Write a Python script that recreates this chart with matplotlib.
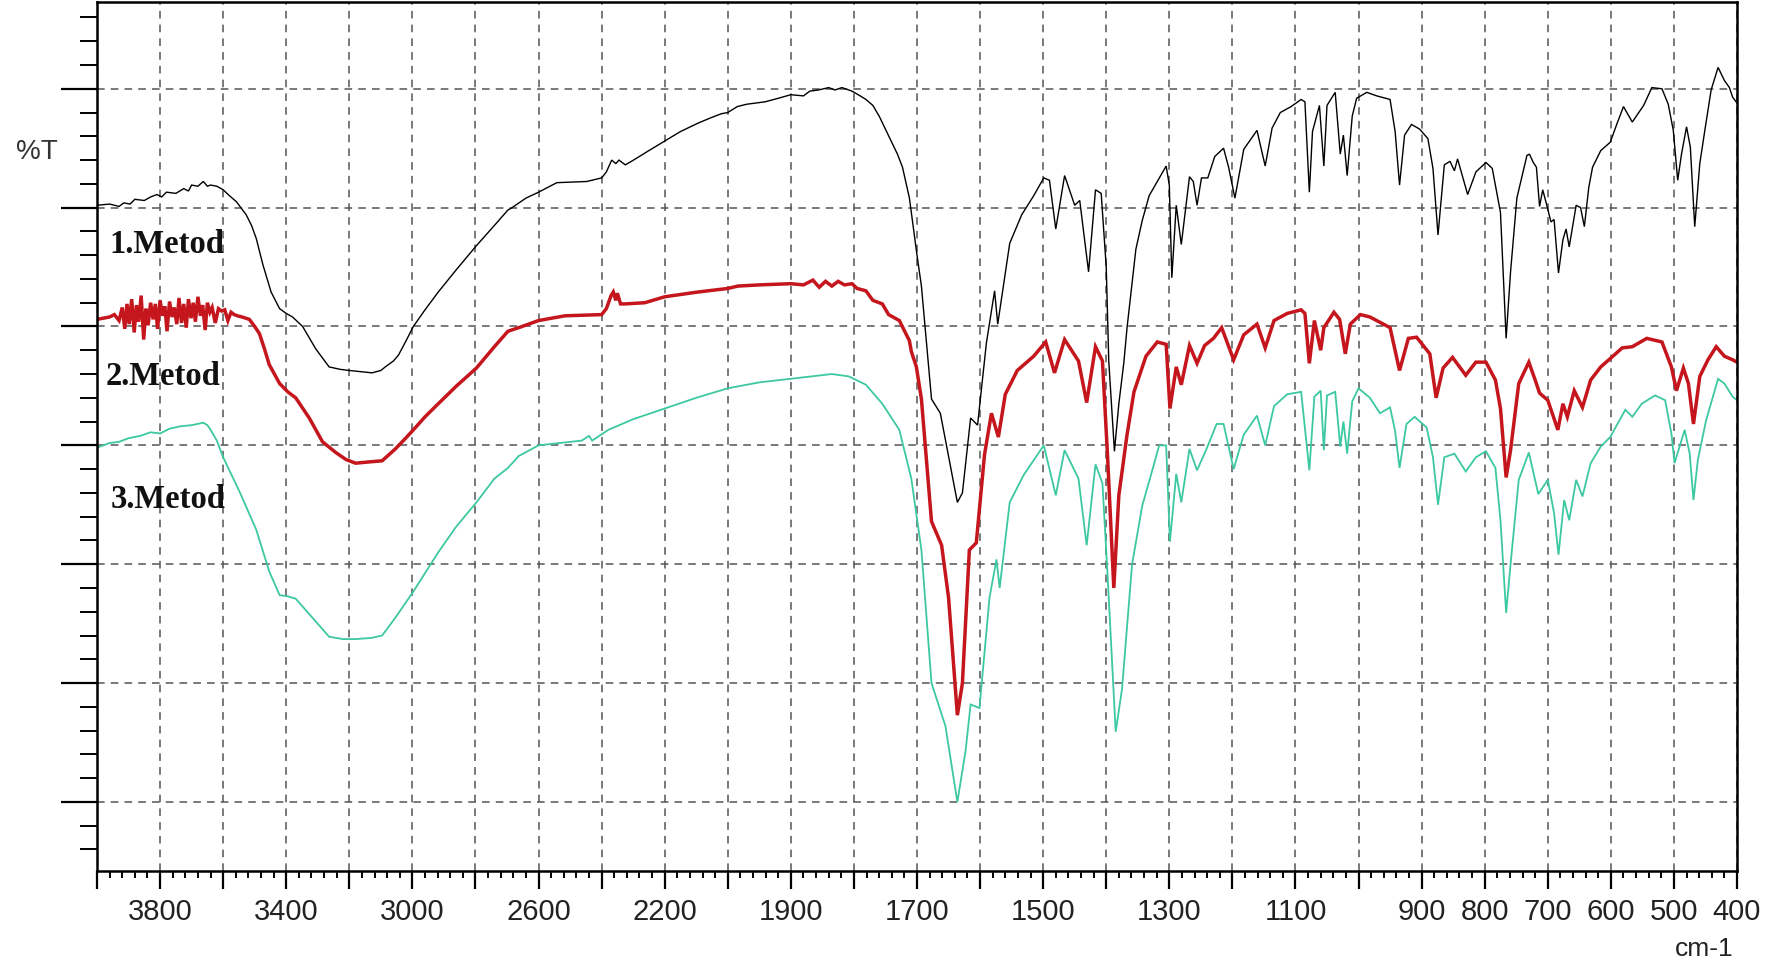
import numpy as np
import matplotlib
matplotlib.use("Agg")
import matplotlib.pyplot as plt
from matplotlib.ticker import FixedLocator, FixedFormatter

# ---------------- data (wavenumber cm-1, %T) ----------------
black = [(4000, 60.2), (3960, 60.3), (3930, 60.1), (3915, 60.4), (3895, 60.3), (3880, 60.7), (3850, 60.6),
         (3830, 60.9), (3810, 61.1), (3795, 60.9), (3780, 61.3), (3750, 61.2), (3725, 61.6), (3710, 61.4),
         (3700, 61.9), (3680, 61.8), (3663, 62.2), (3650, 61.8), (3640, 61.9), (3620, 61.8),
         (3600, 61.5), (3580, 61.0), (3558, 60.5), (3527, 59.4), (3510, 58.5), (3495, 57.4), (3474, 55.2),
         (3448, 52.9), (3421, 51.5), (3400, 51.1), (3380, 50.8), (3348, 50.0), (3306, 48.1), (3264, 46.6),
         (3230, 46.4), (3200, 46.3), (3128, 46.1), (3100, 46.3), (3086, 46.6), (3060, 47.1), (3044, 47.6),
         (3020, 48.8), (2997, 50.0), (2960, 51.4), (2918, 52.9), (2860, 54.8), (2797, 56.8), (2740, 58.5),
         (2697, 59.8), (2684, 60.0), (2640, 60.8), (2600, 61.3), (2542, 62.1), (2447, 62.2), (2400, 62.5),
         (2385, 63.0), (2368, 64.0), (2355, 63.7), (2345, 64.0), (2325, 63.6), (2305, 63.9), (2250, 64.8),
         (2200, 65.6), (2150, 66.4), (2095, 67.1), (2050, 67.6), (2020, 67.9), (2000, 68.0), (1985, 68.5),
         (1970, 68.7), (1941, 68.9), (1920, 69.2), (1900, 69.5), (1880, 69.4), (1870, 69.8), (1856, 69.9),
         (1840, 70.1), (1830, 69.9), (1819, 70.1), (1803, 69.8), (1790, 69.4), (1781, 69.1), (1770, 68.6),
         (1760, 67.7), (1741, 65.6), (1731, 64.5), (1723, 63.4), (1712, 60.8), (1700, 56.0), (1693, 53.4),
         (1677, 43.9), (1663, 42.7), (1650, 39.1), (1636, 35.2), (1628, 36.0), (1615, 42.3), (1604, 41.7),
         (1590, 48.6), (1577, 53.0), (1572, 50.2), (1553, 57.0), (1534, 59.4), (1515, 61.0), (1499, 62.5),
         (1490, 62.3), (1480, 58.2), (1466, 62.7), (1450, 60.2), (1442, 60.6), (1428, 54.6), (1417, 61.5),
         (1408, 61.2), (1400, 55.0), (1396, 47.1), (1387, 39.5), (1380, 43.5), (1372, 47.0), (1367, 49.9),
         (1353, 56.5), (1343, 58.9), (1332, 61.0), (1319, 62.2), (1305, 63.5), (1300, 61.9), (1296, 54.1),
         (1289, 60.2), (1281, 56.9), (1268, 62.6), (1262, 62.2), (1256, 60.2), (1249, 62.5), (1239, 62.5),
         (1228, 64.3), (1214, 65.0), (1206, 63.4), (1196, 60.8), (1182, 64.9), (1161, 66.5), (1148, 63.5),
         (1137, 66.7), (1124, 68.0), (1107, 68.5), (1091, 69.1), (1085, 68.9), (1078, 61.3), (1073, 66.4),
         (1062, 68.6), (1055, 63.5), (1050, 68.6), (1037, 69.7), (1029, 64.5), (1024, 66.1), (1018, 62.7),
         (1010, 67.7), (1003, 69.2), (987, 69.7), (971, 69.4), (950, 69.1), (942, 66.4), (935, 61.9),
         (927, 66.1), (916, 67.0), (903, 66.6), (890, 65.8), (882, 63.3), (874, 57.7), (864, 63.6),
         (855, 63.9), (848, 63.1), (843, 64.1), (827, 61.1), (814, 63.0), (798, 63.8), (788, 63.3),
         (775, 59.6), (766, 49.0), (759, 54.6), (749, 60.8), (733, 64.4), (729, 64.5), (723, 63.8),
         (718, 63.4), (713, 60.1), (708, 61.5), (703, 60.5), (695, 58.8), (690, 59.0), (683, 54.5),
         (676, 57.3), (671, 58.2), (666, 56.7), (655, 60.2), (648, 60.0), (642, 58.4), (635, 61.7),
         (629, 63.4), (616, 64.8), (601, 65.5), (590, 67.1), (580, 68.5), (566, 67.2), (548, 68.6),
         (535, 70.1), (519, 70.0), (509, 68.7), (501, 66.5), (494, 62.3), (488, 64.5), (480, 66.8),
         (474, 65.1), (467, 58.4), (459, 63.7), (451, 66.5), (441, 69.9), (430, 71.8), (420, 70.7),
         (412, 70.1), (407, 69.3), (400, 68.8)]

red = [(4000, 50.6), (3980, 50.7), (3960, 50.8), (3945, 51.0), (3930, 50.5), (3920, 51.6), (3912, 49.8),
       (3905, 51.9), (3898, 50.2), (3890, 52.3), (3882, 49.5), (3875, 51.8), (3868, 50.4), (3860, 52.6),
       (3852, 48.9), (3845, 51.5), (3838, 50.1), (3830, 52.0), (3822, 50.6), (3815, 51.9), (3808, 49.8),
       (3800, 52.2), (3792, 50.9), (3785, 51.7), (3778, 49.6), (3770, 52.1), (3762, 50.8), (3755, 51.6),
       (3747, 50.2), (3740, 52.4), (3732, 50.3), (3725, 51.9), (3717, 49.9), (3710, 52.3), (3702, 50.7),
       (3695, 52.0), (3688, 50.4), (3680, 52.5), (3672, 50.9), (3665, 51.8), (3657, 49.7), (3650, 52.0),
       (3642, 51.2), (3635, 51.6), (3625, 50.3), (3615, 51.5), (3605, 51.3), (3595, 51.4), (3585, 50.5),
       (3575, 51.2), (3565, 51.0), (3555, 50.9), (3540, 50.8), (3517, 50.6), (3500, 50.0), (3485, 49.4),
       (3470, 48.2), (3454, 46.8), (3421, 45.2), (3395, 44.5), (3370, 44.0), (3327, 42.3), (3285, 40.3),
       (3243, 39.4), (3210, 38.8), (3180, 38.5), (3140, 38.6), (3096, 38.7), (3075, 39.2), (3054, 39.7),
       (3025, 40.5), (2997, 41.3), (2960, 42.4), (2918, 43.5), (2860, 45.0), (2797, 46.5), (2740, 48.3),
       (2697, 49.6), (2663, 49.9), (2600, 50.5), (2516, 50.9), (2400, 51.0), (2385, 51.5), (2370, 52.6),
       (2363, 52.9), (2355, 52.2), (2350, 52.8), (2340, 51.9), (2326, 51.9), (2263, 52.0), (2200, 52.5),
       (2095, 52.9), (2000, 53.2), (1984, 53.4), (1950, 53.5), (1900, 53.6), (1880, 53.5), (1865, 53.9),
       (1855, 53.3), (1845, 53.8), (1835, 53.4), (1825, 53.8), (1815, 53.5), (1803, 53.6), (1795, 53.2),
       (1781, 53.0), (1770, 52.2), (1755, 51.9), (1745, 51.0), (1728, 50.5), (1712, 48.8), (1709, 47.9),
       (1701, 46.6), (1693, 43.9), (1677, 33.6), (1661, 31.6), (1650, 27.2), (1636, 17.3), (1628, 20.0),
       (1617, 31.2), (1606, 31.8), (1593, 39.2), (1582, 42.7), (1571, 40.7), (1560, 44.3), (1541, 46.3),
       (1515, 47.5), (1496, 48.7), (1482, 46.1), (1466, 48.9), (1444, 47.1), (1431, 43.6), (1417, 48.3),
       (1406, 47.1), (1398, 39.2), (1388, 28.0), (1380, 35.8), (1367, 40.9), (1356, 44.5), (1337, 47.5),
       (1319, 48.7), (1305, 48.5), (1299, 43.1), (1289, 46.6), (1281, 45.1), (1268, 48.4), (1256, 46.9),
       (1244, 48.4), (1230, 49.0), (1217, 49.9), (1198, 47.2), (1182, 49.3), (1161, 50.2), (1148, 48.2),
       (1134, 50.5), (1113, 51.1), (1091, 51.4), (1085, 51.1), (1078, 46.9), (1070, 50.5), (1060, 48.0),
       (1055, 49.9), (1039, 51.2), (1030, 50.6), (1021, 47.7), (1013, 50.2), (997, 51.0), (982, 50.8),
       (950, 49.9), (935, 46.3), (921, 49.0), (908, 49.1), (887, 47.7), (877, 44.0), (866, 46.5),
       (851, 47.4), (830, 45.9), (814, 47.0), (798, 47.0), (783, 45.5), (775, 43.1), (766, 37.3),
       (759, 39.6), (746, 45.2), (730, 47.0), (720, 45.5), (713, 44.4), (700, 43.8), (684, 41.3),
       (676, 43.5), (669, 42.4), (658, 44.6), (645, 43.2), (632, 45.5), (616, 46.6), (601, 47.3),
       (582, 48.2), (566, 48.3), (543, 49.0), (519, 48.7), (504, 46.6), (496, 44.6), (485, 46.5),
       (477, 45.2), (469, 41.8), (459, 45.8), (446, 47.2), (433, 48.3), (420, 47.5), (407, 47.2), (400, 47.0)]

green = [(4000, 39.8), (3960, 40.2), (3930, 40.3), (3900, 40.6), (3863, 40.8), (3830, 41.1), (3800, 41.0),
         (3770, 41.4), (3737, 41.6), (3700, 41.7), (3663, 41.9), (3650, 41.7), (3642, 41.4), (3620, 40.4),
         (3600, 39.0), (3548, 36.1), (3495, 32.9), (3454, 29.4), (3421, 27.4), (3395, 27.3), (3370, 27.1),
         (3327, 25.8), (3264, 23.9), (3220, 23.7), (3180, 23.7), (3130, 23.8), (3096, 24.0), (3054, 25.5),
         (2997, 27.7), (2918, 31.0), (2860, 33.2), (2797, 35.2), (2740, 37.2), (2697, 38.1), (2663, 39.1),
         (2600, 40.0), (2463, 40.4), (2440, 40.8), (2430, 40.4), (2379, 41.3), (2300, 42.2), (2200, 43.1),
         (2100, 44.0), (2000, 44.8), (1950, 45.3), (1900, 45.6), (1835, 46.0), (1808, 45.8), (1781, 45.1),
         (1755, 43.5), (1728, 41.3), (1709, 37.2), (1693, 31.2), (1677, 20.0), (1655, 16.4), (1636, 10.0),
         (1623, 14.3), (1615, 18.2), (1601, 17.9), (1585, 27.2), (1574, 30.4), (1569, 28.0), (1553, 35.2),
         (1531, 37.5), (1499, 40.0), (1480, 35.8), (1466, 39.6), (1444, 37.2), (1431, 31.6), (1417, 38.4),
         (1406, 36.8), (1398, 29.2), (1385, 15.9), (1375, 19.5), (1365, 26.0), (1359, 30.0), (1343, 34.9),
         (1327, 37.9), (1316, 40.0), (1305, 40.0), (1299, 31.9), (1289, 37.6), (1281, 35.2), (1268, 39.7),
         (1256, 37.9), (1241, 39.7), (1225, 41.8), (1214, 41.8), (1198, 38.0), (1182, 40.9), (1161, 42.5),
         (1148, 40.0), (1134, 43.3), (1113, 44.3), (1091, 44.5), (1078, 37.9), (1070, 44.1), (1060, 44.6),
         (1055, 39.6), (1050, 44.2), (1037, 44.5), (1029, 39.9), (1024, 42.0), (1018, 39.3), (1010, 43.7),
         (1000, 44.8), (982, 44.0), (966, 42.7), (950, 43.2), (942, 41.2), (935, 38.1), (924, 41.8),
         (911, 42.4), (892, 41.5), (882, 39.0), (874, 35.0), (864, 39.0), (848, 39.3), (830, 37.8),
         (814, 39.0), (798, 39.5), (783, 38.1), (775, 33.7), (766, 25.9), (759, 30.0), (746, 37.1),
         (730, 39.4), (715, 35.9), (700, 37.1), (690, 34.3), (683, 30.8), (674, 35.4), (666, 33.7),
         (655, 37.1), (645, 35.7), (632, 38.5), (616, 39.9), (601, 40.7), (577, 43.0), (566, 42.4),
         (551, 43.5), (530, 44.2), (514, 43.8), (504, 41.0), (499, 38.5), (491, 39.9), (483, 41.3),
         (475, 39.3), (469, 35.4), (462, 38.8), (449, 42.1), (430, 45.6), (420, 45.2), (407, 44.1), (400, 43.8)]

series_labels = ["1.Metod", "2.Metod", "3.Metod"]
label_pos = [(3962, 57.0), (3972, 45.9), (3958, 35.5)]
x_labeled = [3800, 3400, 3000, 2600, 2200, 1900, 1700, 1500, 1300, 1100, 900, 800, 700, 600, 500, 400]

# ---------------- axis scale (2x expansion below 2000 cm-1) ----------------
def fwd(w):
    w = np.asarray(w, dtype=float)
    return np.where(w >= 2000, 1000 + (w - 2000) / 2.0, w - 1000)

def inv(u):
    u = np.asarray(u, dtype=float)
    return np.where(u >= 1000, 2000 + (u - 1000) * 2.0, u + 1000)

fig = plt.figure(figsize=(17.81, 9.70), dpi=100)
ax = fig.add_axes([97 / 1781, 1 - 872 / 970, (1737 - 97) / 1781, (872 - 3) / 970])
ax.set_xscale('function', functions=(fwd, inv))
ax.set_xlim(4000, 400)
ax.set_ylim(4.19, 77.3)

for data, col, lw, z in [(green, '#3cc8a0', 1.3, 3), (red, '#c4161c', 2.5, 4), (black, '#000000', 1.0, 5)]:
    arr = np.array(data)
    ax.plot(arr[:, 0], arr[:, 1], color=col, lw=lw, zorder=z, solid_joinstyle='miter')

# ticks
x_major = [4000] + list(range(3800, 1999, -200)) + list(range(1900, 399, -100))
x_minor = list(range(4000, 2000, -40)) + list(range(2000, 399, -20))
ax.xaxis.set_major_locator(FixedLocator(x_major))
ax.xaxis.set_minor_locator(FixedLocator(x_minor))
ax.xaxis.set_major_formatter(FixedFormatter([str(v) if v in x_labeled else '' for v in x_major]))
ax.yaxis.set_major_locator(FixedLocator(list(range(10, 71, 10))))
ax.yaxis.set_minor_locator(FixedLocator(list(np.arange(6, 77, 2))))
ax.yaxis.set_major_formatter(FixedFormatter([]))

ax.tick_params(axis='x', which='major', direction='out', length=13, width=1.6, pad=6,
               labelsize=21, labelcolor='#222222')
ax.tick_params(axis='x', which='minor', direction='out', length=5, width=1.4)
ax.tick_params(axis='y', which='major', direction='out', length=26, width=1.6, labelleft=False)
ax.tick_params(axis='y', which='minor', direction='out', length=12, width=1.4)
for lab in ax.get_xticklabels():
    lab.set_fontfamily(['Liberation Sans Narrow', 'Liberation Sans', 'DejaVu Sans'])

ax.grid(which='major', axis='both', linestyle=(0, (5, 4)), color='#555555', lw=1.1, zorder=1)
for sp in ax.spines.values():
    sp.set_linewidth(1.8)
    sp.set_zorder(6)

for txt, (xw, yt) in zip(series_labels, label_pos):
    ax.text(xw, yt, txt, ha='left', va='center', fontsize=23.5, fontweight='bold',
            family=['Liberation Serif', 'DejaVu Serif'], color='#111111', zorder=7)

fig.text(37 / 1781, 1 - 152 / 970, '%T', ha='center', va='center', fontsize=20,
         family=['Liberation Sans', 'DejaVu Sans'], color='#333333')
fig.text(1734 / 1781, 1 - 949 / 970, 'cm-1', ha='right', va='center', fontsize=19,
         family=['Liberation Sans Narrow', 'Liberation Sans', 'DejaVu Sans'], color='#222222')

fig.savefig('out.png', dpi=100)
